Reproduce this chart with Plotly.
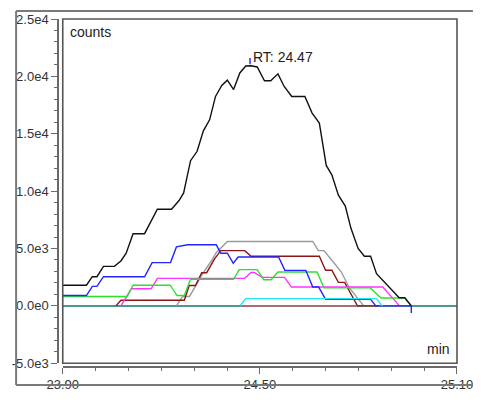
import plotly.graph_objs as go

# Extracted ion chromatogram around RT 24.47 min, intensity in counts

# total (black)
tic_x = [23.90, 23.972, 23.990, 24.004, 24.024, 24.057, 24.077, 24.093, 24.114, 24.149,
         24.188, 24.231, 24.254, 24.268, 24.289, 24.309, 24.328, 24.347, 24.365, 24.384,
         24.401, 24.420, 24.439, 24.457, 24.473, 24.492, 24.514, 24.533, 24.555, 24.574,
         24.597, 24.637, 24.659, 24.681, 24.702, 24.719, 24.739, 24.760, 24.777, 24.799,
         24.818, 24.837, 24.855, 24.924, 24.941, 24.961]
tic_y = [1800, 1800, 2540, 2540, 3440, 3440, 3910, 4590, 6290, 6290,
         8420, 8420, 9180, 9840, 12650, 13470, 15250, 16210, 18250, 19210,
         19670, 18850, 20300, 20900, 20930, 20820, 19620, 19620, 20220, 19120,
         18250, 18250, 16800, 15930, 12240, 11420, 9650, 8690, 6780, 5000,
         4320, 4320, 2810, 710, 710, 0]

blue_x = [23.90, 23.972, 23.990, 24.004, 24.024, 24.149, 24.172, 24.228, 24.246, 24.280,
          24.367, 24.381, 24.401, 24.419, 24.434, 24.557, 24.576, 24.640, 24.661, 24.679,
          24.700, 24.837, 24.853, 24.961]
blue_y = [900, 900, 1700, 1700, 2540, 2540, 3770, 3770, 5140, 5330,
          5330, 4590, 4590, 3710, 4260, 4260, 3090, 3090, 1640, 1640,
          570, 570, 0, 0]

green_x = [23.90, 24.096, 24.114, 24.227, 24.248, 24.270, 24.289, 24.420, 24.437, 24.492,
           24.512, 24.534, 24.555, 24.674, 24.695, 24.835, 24.869, 24.941, 24.961]
green_y = [820, 820, 1800, 1800, 900, 900, 2320, 2320, 3160, 3160,
           2270, 2270, 2950, 2950, 1580, 1580, 680, 680, 0]

magenta_x = [24.077, 24.109, 24.169, 24.188, 24.454, 24.473, 24.483, 24.507, 24.575, 24.596,
             24.874, 24.925]
magenta_y = [0, 1490, 1490, 2400, 2400, 2910, 2910, 2480, 2480, 1640,
             1640, 0]

maroon_x = [24.062, 24.077, 24.270, 24.285, 24.304, 24.323, 24.338, 24.362, 24.381, 24.454,
            24.473, 24.681, 24.700, 24.719, 24.739, 24.758, 24.797, 24.860]
maroon_y = [0, 490, 490, 1780, 1780, 2890, 2890, 4100, 4810, 4810,
            4320, 4320, 3110, 3110, 2050, 2050, 0, 0]

grey_x = [24.246, 24.265, 24.286, 24.323, 24.352, 24.367, 24.401, 24.661, 24.678, 24.695,
          24.729, 24.748, 24.772, 24.816, 24.950]
grey_y = [0, 820, 820, 2680, 3910, 4630, 5610, 5610, 4810, 4810,
          3630, 2950, 1580, 0, 0]

cyan_x = [24.439, 24.457, 24.855, 24.872]
cyan_y = [0, 630, 630, 0]

red_x = [24.444, 24.796]
red_y = [0, 0]

# peak apex / peak end markers
mark_x = [24.47, 24.47, None, 24.961, 24.961]
mark_y = [21050, 21600, None, 0, -620]

rt_label = 'RT: 24.47'
rt_pos = 21700

ytick_vals = [-5000, 0, 5000, 10000, 15000, 20000, 25000]
ytick_text = ['-5.0e3', '0.0e0', '5.0e3', '1.0e4', '1.5e4', '2.0e4', '2.5e4']

series = [
    (grey_x, grey_y, '#9a9a9a'),
    (maroon_x, maroon_y, '#8b1515'),
    (magenta_x, magenta_y, '#ff33ff'),
    (green_x, green_y, '#2ee02e'),
    (blue_x, blue_y, '#2424ff'),
    (cyan_x, cyan_y, '#1ee8f5'),
    (red_x, red_y, '#ff4a4a'),
    (tic_x, tic_y, '#111111'),
    (mark_x, mark_y, '#2424ff'),
]

data = [go.Scatter(x=x, y=y, mode='lines', line=dict(color=c, width=1.4), hoverinfo='x+y')
        for x, y, c in series]

axis_grey = '#6a6a6a'

layout = go.Layout(
    width=485, height=404,
    margin=dict(l=49, r=17, t=12, b=23),
    showlegend=False,
    plot_bgcolor='white', paper_bgcolor='white',
    font=dict(family='Liberation Sans, Arial, sans-serif', size=13, color='#333333'),
    xaxis=dict(range=[23.9, 25.1], domain=[0.0119, 1], anchor='free', position=0,
               tickmode='linear', tick0=23.9, dtick=0.6, tickformat='.2f',
               ticks='outside', ticklen=6, tickcolor=axis_grey, tickwidth=1,
               showline=True, linecolor=axis_grey, linewidth=1.5,
               showgrid=False, zeroline=False,
               minor=dict(tickmode='linear', tick0=23.9, dtick=0.1, ticks='outside',
                          ticklen=3, tickcolor=axis_grey)),
    yaxis=dict(range=[-5000, 25000], domain=[0.0108, 1], anchor='free', position=0,
               tickmode='array', tickvals=ytick_vals, ticktext=ytick_text,
               ticks='outside', ticklen=6, tickcolor=axis_grey, tickwidth=1,
               showline=True, linecolor=axis_grey, linewidth=1.5,
               showgrid=False, zeroline=True, zerolinecolor='#4f9590', zerolinewidth=2,
               minor=dict(tickmode='linear', tick0=0, dtick=1000, ticks='outside',
                          ticklen=3, tickcolor=axis_grey)),
    shapes=[
        # plot box
        dict(type='rect', xref='x domain', yref='y domain', x0=0, x1=1, y0=0, y1=1,
             line=dict(color='#555555', width=1.6)),
        # outer frame: left, top and bottom edges (right edge lies outside the window)
        dict(type='line', xref='paper', yref='paper', x0=-0.105, x1=-0.105, y0=-0.052, y1=1.023,
             line=dict(color='#7a7a7a', width=2)),
        dict(type='line', xref='paper', yref='paper', x0=-0.105, x1=1.04, y0=1.023, y1=1.023,
             line=dict(color='#7a7a7a', width=2)),
        dict(type='line', xref='paper', yref='paper', x0=-0.105, x1=1.04, y0=-0.052, y1=-0.052,
             line=dict(color='#7a7a7a', width=2)),
    ],
    annotations=[
        dict(text='counts', xref='x domain', yref='y domain', x=0.013, y=0.99,
             xanchor='left', yanchor='top', showarrow=False,
             font=dict(size=14, color='#222222')),
        dict(text='min', xref='x domain', yref='y domain', x=0.987, y=0.012,
             xanchor='right', yanchor='bottom', showarrow=False,
             font=dict(size=14, color='#222222')),
        dict(text=rt_label, xref='x', yref='y', x=24.47, y=rt_pos,
             xanchor='left', yanchor='middle', xshift=1, showarrow=False,
             font=dict(size=14, color='#222222')),
    ],
)

fig = go.Figure(data=data, layout=layout)
# the page keeps the browser's default body margin; drop it so the figure sits at 0,0
fig.write_html('out.html', config=dict(displayModeBar=False),
               post_script="document.body.style.margin='0';")
